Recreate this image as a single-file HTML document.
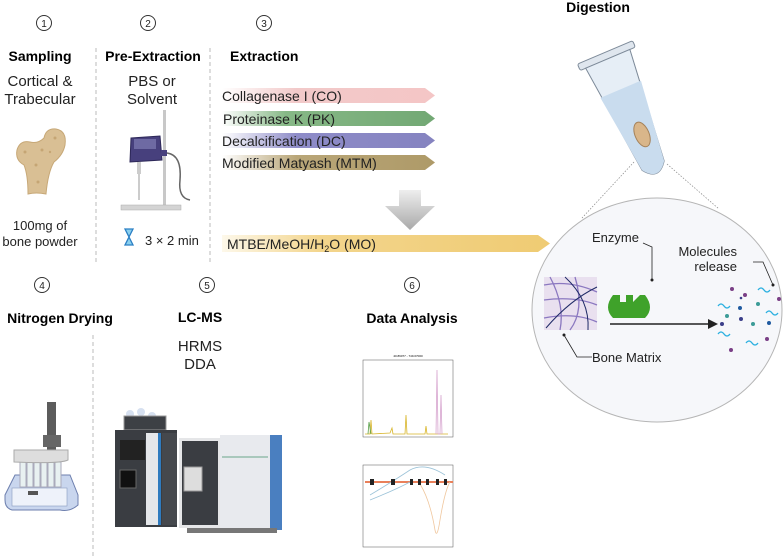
<!DOCTYPE html>
<html><head><meta charset="utf-8"><style>
body{margin:0;background:#fff}
svg{display:block;font-family:"Liberation Sans",sans-serif}
.b{font-weight:bold;font-size:14px}
.t{font-size:15px;fill:#222}
</style></head><body>
<svg width="784" height="557" viewBox="0 0 784 557" xmlns="http://www.w3.org/2000/svg">
<defs>
<linearGradient id="gp" x1="0" x2="1"><stop offset="0" stop-color="#fff"/><stop offset="0.35" stop-color="#f2c9c9"/><stop offset="1" stop-color="#f4c6c6"/></linearGradient>
<linearGradient id="gg" x1="0" x2="1"><stop offset="0" stop-color="#fff"/><stop offset="0.3" stop-color="#86b886"/><stop offset="1" stop-color="#72a874"/></linearGradient>
<linearGradient id="gb" x1="0" x2="1"><stop offset="0" stop-color="#fff"/><stop offset="0.35" stop-color="#8e8cc8"/><stop offset="1" stop-color="#8583c0"/></linearGradient>
<linearGradient id="gt" x1="0" x2="1"><stop offset="0" stop-color="#fff"/><stop offset="0.35" stop-color="#b9a678"/><stop offset="1" stop-color="#ae9a68"/></linearGradient>
<linearGradient id="gy" x1="0" x2="1"><stop offset="0" stop-color="#fdf8ea"/><stop offset="0.3" stop-color="#f3d58c"/><stop offset="1" stop-color="#efcb73"/></linearGradient>
<linearGradient id="gd" x1="0" x2="0" y1="0" y2="1"><stop offset="0" stop-color="#eee"/><stop offset="1" stop-color="#a9a9a9"/></linearGradient>
</defs>
<!-- circled numbers -->
<g fill="none" stroke="#333" stroke-width="1">
<circle cx="44" cy="23" r="7.5"/><circle cx="148" cy="23" r="7.5"/><circle cx="264" cy="23" r="7.5"/>
<circle cx="42" cy="285" r="7.5"/><circle cx="207" cy="285" r="7.5"/><circle cx="412" cy="285" r="7.5"/>
</g>
<g font-size="10" text-anchor="middle" fill="#222">
<text x="44" y="27">1</text><text x="148" y="27">2</text><text x="264" y="27">3</text>
<text x="42" y="289">4</text><text x="207" y="289">5</text><text x="412" y="289">6</text>
</g>
<!-- dashed separators -->
<g stroke="#bbb" stroke-dasharray="4,3" stroke-width="1">
<line x1="96" y1="48" x2="96" y2="262"/><line x1="210" y1="48" x2="210" y2="262"/>
<line x1="93" y1="335" x2="93" y2="557"/>
</g>
<!-- titles -->
<text class="b" x="40" y="61" text-anchor="middle">Sampling</text>
<text class="b" x="153" y="61" text-anchor="middle">Pre-Extraction</text>
<text class="b" x="230" y="61">Extraction</text>
<text class="b" x="598" y="12" text-anchor="middle">Digestion</text>
<text class="b" x="60" y="323" text-anchor="middle">Nitrogen Drying</text>
<text class="b" x="200" y="322" text-anchor="middle">LC-MS</text>
<text class="b" x="412" y="323" text-anchor="middle">Data Analysis</text>
<text class="t" x="40" y="86" text-anchor="middle">Cortical &amp;</text>
<text class="t" x="40" y="104" text-anchor="middle">Trabecular</text>
<text class="t" x="152" y="86" text-anchor="middle">PBS or</text>
<text class="t" x="152" y="104" text-anchor="middle">Solvent</text>
<text x="40" y="230" font-size="13" text-anchor="middle" fill="#222">100mg of</text>
<text x="40" y="246" font-size="13" text-anchor="middle" fill="#222">bone powder</text>
<text class="t" x="200" y="351" text-anchor="middle">HRMS</text>
<text class="t" x="200" y="369" text-anchor="middle">DDA</text>
<!-- femur -->
<path d="M17 150 Q20 140 30 142 Q38 144 44 138 Q46 128 56 129 Q67 131 65 145 Q63 155 54 162 Q48 172 46 194 Q36 192 28 194 Q28 175 24 165 Q15 160 17 150Z" fill="#d9bf94" stroke="#c7a877" stroke-width="1"/>
<g fill="#b8955f" opacity="0.6"><circle cx="25" cy="152" r="1.5"/><circle cx="42" cy="150" r="1.5"/><circle cx="55" cy="138" r="1.5"/><circle cx="36" cy="165" r="1.5"/><circle cx="38" cy="182" r="1.5"/><circle cx="50" cy="152" r="1.2"/></g>
<!-- homogenizer -->
<rect x="163" y="110" width="3" height="100" fill="#c8c8c8"/>
<rect x="121" y="205" width="60" height="5" fill="#d4d4d4" stroke="#aaa" stroke-width="0.5"/>
<path d="M131 138 L160 136 L162 160 L130 162Z" fill="#47407d" stroke="#2d2858"/>
<rect x="134" y="139" width="22" height="10" fill="#6e6aa3"/>
<rect x="161" y="150" width="6" height="6" fill="#47407d"/>
<path d="M167 153 Q182 155 180 180 Q178 198 190 200" fill="none" stroke="#666" stroke-width="1.5"/>
<rect x="137" y="162" width="4" height="12" fill="#ccc"/><line x1="139" y1="174" x2="139" y2="200" stroke="#999"/>
<!-- hourglass -->
<path d="M125 229 h8 l-4 8 l4 8 h-8 l4 -8z" fill="#8ad0ef" stroke="#2b7fc4" stroke-width="1.3"/>
<text x="145" y="245" font-size="13" fill="#222">3 × 2 min</text>
<!-- extraction arrows -->
<path d="M222 88 H425 L435 95.5 L425 103 H222Z" fill="url(#gp)"/>
<path d="M222 111 H425 L435 118.5 L425 126 H222Z" fill="url(#gg)"/>
<path d="M222 133 H425 L435 140.5 L425 148 H222Z" fill="url(#gb)"/>
<path d="M222 155 H425 L435 162.5 L425 170 H222Z" fill="url(#gt)"/>
<g font-size="14" fill="#222">
<text x="222" y="101">Collagenase I (CO)</text>
<text x="223" y="124">Proteinase K (PK)</text>
<text x="222" y="146">Decalcification (DC)</text>
<text x="222" y="168">Modified Matyash (MTM)</text>
</g>
<path d="M399 190 H421 V206 H435 L410 230 L385 206 H399Z" fill="url(#gd)"/>
<path d="M222 235 H538 L550 243.5 L538 252 H222Z" fill="url(#gy)"/>
<text x="227" y="249" font-size="14" fill="#222">MTBE/MeOH/H<tspan font-size="9" dy="3">2</tspan><tspan dy="-3">O (MO)</tspan></text>
<!-- tube -->
<g transform="translate(607,57) rotate(-23)">
<rect x="-30" y="-5" width="60" height="7" rx="2" fill="#dfe6ee" stroke="#7d8a99"/>
<path d="M-24 2 H24 L12 118 Q0 135 -12 118Z" fill="#e6eef6" stroke="#7d8a99"/>
<path d="M-22 35 H22 L12 118 Q0 135 -12 118Z" fill="#c9dcee"/>
<ellipse cx="2" cy="85" rx="7" ry="13" fill="#d9b68a" stroke="#a5825a"/>
</g>
<!-- dotted zoom lines -->
<g stroke="#888" stroke-dasharray="1.5,1.5" stroke-width="0.7"><line x1="634" y1="162" x2="582" y2="218"/><line x1="667" y1="164" x2="719" y2="209"/></g>
<!-- circle -->
<ellipse cx="657" cy="310" rx="125" ry="112" fill="#f6f7fa" stroke="#b5b5b5"/>
<!-- bone matrix -->
<rect x="544" y="277" width="53" height="53" fill="#e9e0ef"/>
<g fill="none" stroke="#8b78c0" stroke-width="1.3">
<path d="M544 285 Q570 280 597 292"/><path d="M544 300 Q575 296 597 305"/><path d="M550 277 Q565 305 560 330"/><path d="M575 277 Q585 310 570 330"/><path d="M544 318 Q575 312 597 322"/>
</g>
<g fill="none" stroke="#1f2a66" stroke-width="1"><path d="M546 328 Q570 300 597 287"/><path d="M565 277 Q590 300 588 330"/></g>
<!-- enzyme -->
<path d="M626 295 H633 V302 L640 295 H645 Q655 308 645 318 H613 Q603 308 613 295 H620 V302 H626Z" fill="#3fa22a"/>
<line x1="610" y1="324" x2="708" y2="324" stroke="#222" stroke-width="1.5"/>
<path d="M708 319 L718 324 L708 329Z" fill="#222"/>
<!-- molecules -->
<g fill="#7a3f86"><circle cx="732" cy="289" r="2"/><circle cx="745" cy="295" r="2"/><circle cx="767" cy="339" r="2"/><circle cx="731" cy="350" r="2"/><circle cx="779" cy="299" r="2"/></g>
<g fill="#3b3f8a"><circle cx="722" cy="324" r="2"/><circle cx="741" cy="319" r="2"/><circle cx="741" cy="298" r="1.3"/></g>
<g fill="#1f5aa0"><circle cx="740" cy="308" r="2"/><circle cx="769" cy="323" r="2"/></g>
<g fill="#3b9b97"><circle cx="727" cy="316" r="2"/><circle cx="753" cy="324" r="2"/><circle cx="758" cy="304" r="2"/></g>
<g fill="none" stroke="#2bb0e0" stroke-width="1.3"><path d="M718 306 q3 -4 6 0 q3 4 6 0"/><path d="M758 290 q3 -4 6 0 q3 4 6 0"/><path d="M766 313 q3 -4 6 0 q3 4 6 0"/><path d="M718 334 q3 -4 6 0 q3 4 6 0"/><path d="M746 343 q3 -4 6 0 q3 4 6 0"/></g>
<!-- callouts -->
<g fill="none" stroke="#222" stroke-width="0.8"><path d="M643 243 L652 247 V280"/><path d="M753 262 L763 262 L773 285"/><path d="M564 335 L577 357 L592 357"/></g>
<g fill="#222"><circle cx="652" cy="280" r="1.5"/><circle cx="773" cy="285" r="1.5"/><circle cx="564" cy="335" r="1.5"/></g>
<g font-size="13" fill="#222"><text x="592" y="242">Enzyme</text><text x="737" y="256" text-anchor="end">Molecules</text><text x="737" y="271" text-anchor="end">release</text><text x="592" y="362">Bone Matrix</text></g>
<!-- nitrogen dryer -->
<rect x="47" y="402" width="9" height="50" fill="#5c5c5c"/><rect x="43" y="435" width="18" height="12" fill="#666"/>
<path d="M5 495 L15 475 H70 L78 495 V505 Q70 512 60 510 H12 Q5 508 5 500Z" fill="#c9d6ee" stroke="#6d7fae"/>
<rect x="12" y="488" width="55" height="18" fill="#eef2fa" stroke="#8899c0" stroke-width="0.6"/>
<g fill="#e8f1f1" stroke="#aab"><rect x="20" y="462" width="6" height="25"/><rect x="27" y="462" width="6" height="25"/><rect x="34" y="462" width="6" height="25"/><rect x="41" y="462" width="6" height="25"/><rect x="48" y="462" width="6" height="25"/><rect x="55" y="462" width="6" height="25"/></g>
<path d="M14 450 H68 V460 Q60 464 14 462Z" fill="#ddd" stroke="#aaa"/>
<rect x="28" y="491" width="10" height="4" fill="#555"/>
<!-- LC-MS -->
<g>
<circle cx="130" cy="414" r="4" fill="#d6e0f0"/><circle cx="141" cy="412" r="4" fill="#d6e0f0"/><circle cx="152" cy="416" r="4" fill="#d6e0f0"/>
<rect x="124" y="416" width="42" height="14" fill="#3d4045" stroke="#999"/>
<rect x="115" y="430" width="62" height="97" fill="#3a3d42"/>
<rect x="146" y="433" width="12" height="92" fill="#e5e7ea"/>
<rect x="158" y="433" width="3" height="92" fill="#2f7bbf"/>
<rect x="120" y="440" width="25" height="20" fill="#222"/>
<rect x="120" y="470" width="16" height="18" fill="#111" stroke="#666"/>
<rect x="162" y="433" width="15" height="92" fill="#45484d"/>
<rect x="179" y="438" width="42" height="90" fill="#e5e6e8"/>
<rect x="182" y="441" width="36" height="84" fill="#3a3d42"/>
<rect x="184" y="467" width="18" height="24" fill="#ddd" stroke="#999"/>
<path d="M220 435 H270 V530 H220Z" fill="#e8eaee"/>
<rect x="270" y="435" width="12" height="95" fill="#4a7fc0"/>
<line x1="222" y1="457" x2="268" y2="457" stroke="#6aa58a"/>
<rect x="187" y="528" width="90" height="5" fill="#777"/>
</g>
<!-- charts -->
<g stroke="#555" stroke-width="0.5" fill="#fff">
<rect x="363" y="360" width="90" height="77"/>
<rect x="363" y="465" width="90" height="82"/>
</g>
<text x="408" y="357" font-size="3" text-anchor="middle">40.89077 - 749.07000</text>
<g fill="none" stroke-width="0.8">
<path d="M365 434 L370 434 L371 420 L372 434 L390 433 L392 428 L393 434 L405 434 L406 415 L407 434 L425 434 L426 426 L427 434 L448 434" stroke="#d8b52a"/>
<path d="M436 434 L437 370 L438 434 L440 434 L441 395 L442 434" stroke="#d7a5cf"/>
<path d="M368 434 L369 422 L371 434" stroke="#5aa04a"/>
<path d="M365 482 H453" stroke="#e9805a" stroke-width="2"/>
<path d="M370 495 Q395 480 410 470 Q425 462 445 475" stroke="#9cc3d8"/>
<path d="M370 500 Q395 490 410 482" stroke="#9cc3d8"/>
<path d="M420 484 Q430 500 435 530 Q437 540 440 520 Q445 490 450 482" stroke="#f0c79e"/>
</g>
<g fill="#222"><rect x="370" y="479" width="4" height="6"/><rect x="391" y="479" width="4" height="6"/><rect x="410" y="479" width="3" height="6"/><rect x="418" y="479" width="3" height="6"/><rect x="426" y="479" width="3" height="6"/><rect x="436" y="479" width="3" height="6"/><rect x="444" y="479" width="3" height="6"/></g>
</svg>
</body></html>
